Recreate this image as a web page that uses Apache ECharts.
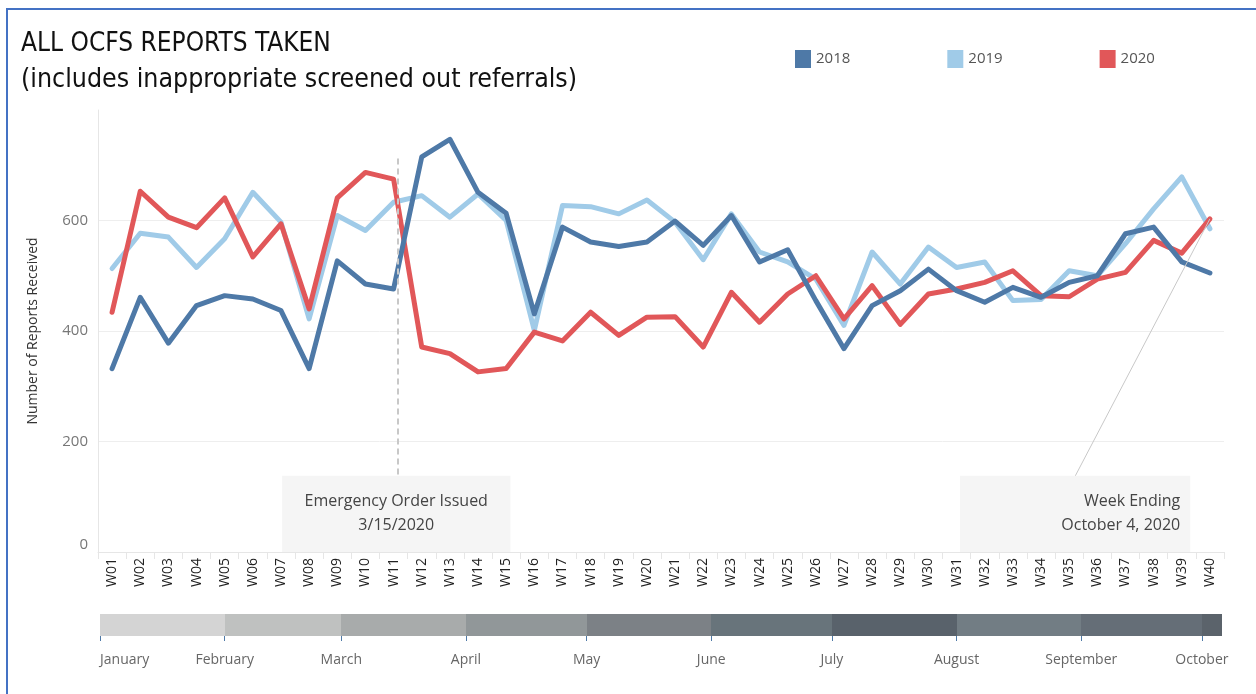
<!DOCTYPE html>
<html>
<head>
<meta charset="utf-8">
<script src="https://cdn.jsdelivr.net/npm/echarts@6/dist/echarts.min.js"></script>
<style>
    html,body{margin:0;padding:0;background:#fff;}
    #frame{position:absolute;left:6px;top:8px;width:1250px;height:686px;border-top:2px solid #4472c4;border-left:2px solid #4472c4;}
    #chart{position:absolute;left:0;top:0;width:1256px;height:694px;}
</style>
</head>
<body>
<div id="frame"></div>
<div id="chart"></div>
<script>
// weekly report counts
var weeks = ['W01','W02','W03','W04','W05','W06','W07','W08','W09','W10',
             'W11','W12','W13','W14','W15','W16','W17','W18','W19','W20',
             'W21','W22','W23','W24','W25','W26','W27','W28','W29','W30',
             'W31','W32','W33','W34','W35','W36','W37','W38','W39','W40'];
var y2018 = [332,461,378,446,464,458,437,332,527,485,476,715,747,651,613,431,588,561,553,561,
             599,555,609,525,547,455,368,446,473,512,473,452,479,461,488,500,576,588,525,505];
var y2019 = [513,577,570,515,567,651,597,422,609,582,633,645,606,648,600,401,627,625,612,637,
             597,529,612,543,525,494,410,543,485,552,515,525,455,457,509,500,558,621,679,585];
var y2020 = [434,653,606,587,641,534,594,440,641,687,675,371,359,326,332,398,382,434,392,425,
             426,371,470,416,467,500,422,482,412,467,476,488,509,464,462,494,506,564,541,603];
var yTicks = [0,200,400,600];

var monthNames = ['January','February','March','April','May','June','July','August','September','October'];
var monthStarts = ['2020-01-01','2020-02-01','2020-03-01','2020-04-01','2020-05-01',
                   '2020-06-01','2020-07-01','2020-08-01','2020-09-01','2020-10-01'];
var bandEnd = '2020-10-06';
var monthColors = ['#d4d4d4','#bfc1c0','#a8abab','#919799','#7c8186','#68747b','#59626b','#727d84','#656e77','#5b636b'];

var orderDate = '2020-03-15';
var orderLabel = 'Emergency Order Issued\n3/15/2020';
var endLabel = 'Week Ending\nOctober 4, 2020';

(function(window){
    var C2018 = '#4e79a7', C2019 = '#a0cbe8', C2020 = '#e15759';
    var FONT = "'Open Sans', 'Noto Sans', sans-serif";
    var TFONT = "'Liberation Sans Narrow','DejaVu Sans Condensed',sans-serif";

    // date -> week position (W01 = 1, centred on Jan 4)
    function weekPos(s){
        var d = new Date(s + 'T00:00:00Z');
        var doy = (d - Date.UTC(2020,0,1)) / 86400000 + 1;
        return 1 + (doy - 4) / 7;
    }

    var bands = [];
    monthStarts.forEach(function(s,i){
        var end = i < monthStarts.length - 1 ? monthStarts[i+1] : bandEnd;
        bands.push([weekPos(s), weekPos(end), i]);
    });
    var monthPos = monthStarts.map(weekPos);

    function monthName(v){
        for(var i=0;i<monthPos.length;i++){
            if(Math.abs(monthPos[i]-v) < 1e-6) return monthNames[i];
        }
        return '';
    }

    function lineSeries(name,data,color){
        return {
            name:name,
            type:'line',
            xAxisIndex:0,
            yAxisIndex:0,
            data:data,
            symbol:'none',
            lineStyle:{width:5,color:color,join:'round',cap:'round'},
            itemStyle:{color:color},
            emphasis:{disabled:true}
        };
    }

    var orderX = weekPos(orderDate);

    var option = {
        animation:false,
        textStyle:{fontFamily:FONT},
        title:[
            {text:'ALL OCFS REPORTS TAKEN', left:16, top:26,
             textStyle:{fontFamily:TFONT,fontSize:26,fontWeight:'normal',color:'#111'}},
            {text:'(includes inappropriate screened out referrals)', left:16, top:62,
             textStyle:{fontFamily:TFONT,fontSize:26.5,fontWeight:'normal',color:'#111'}}
        ],
        legend:{
            data:['2018','2019','2020'],
            left:790, top:45,
            icon:'rect',
            itemWidth:16, itemHeight:18,
            itemGap:97,
            selectedMode:false,
            textStyle:{fontSize:15,color:'#555',fontFamily:FONT}
        },
        grid:[
            {left:98, right:32, top:110, bottom:142},
            {left:98, right:32, top:614, height:22}
        ],
        xAxis:[
            {
                type:'category', gridIndex:0, data:weeks,
                axisLine:{lineStyle:{color:'#e6e6e6'}},
                axisTick:{show:true,length:7,lineStyle:{color:'#e6e6e6'}},
                axisLabel:{rotate:90,fontSize:14,color:'#222',margin:6}
            },
            {
                type:'value', gridIndex:0, min:0.5, max:40.5, show:false
            },
            {
                type:'value', gridIndex:1, min:0.5, max:40.5,
                offset:8,
                splitLine:{show:false},
                splitArea:{show:false},
                axisLine:{show:false},
                axisTick:{show:true,length:5,customValues:monthPos,lineStyle:{color:'#4e79a7',width:1}},
                axisLabel:{customValues:monthPos,fontSize:14,color:'#666',margin:9,
                           formatter:monthName, alignMinLabel:'left'}
            }
        ],
        yAxis:[
            {
                type:'value', gridIndex:0, min:0, max:800, interval:200,
                name:'Number of Reports Received',
                nameLocation:'middle', nameGap:58,
                nameTextStyle:{fontSize:14,color:'#333'},
                axisLine:{show:true,lineStyle:{color:'#e6e6e6'}},
                axisTick:{show:false},
                axisLabel:{fontSize:15,color:'#777',margin:10,showMaxLabel:false,
                           verticalAlignMinLabel:'bottom',
                           formatter:function(v){ return yTicks.indexOf(v) >= 0 ? String(v) : ''; }},
                splitLine:{lineStyle:{color:'#eeeeee'},showMaxLine:false}
            },
            {
                type:'value', gridIndex:1, min:0, max:1, show:false
            }
        ],
        series:[
            lineSeries('2019',y2019,C2019),
            lineSeries('2020',y2020,C2020),
            lineSeries('2018',y2018,C2018),
            {
                // annotations
                name:'notes', type:'line', xAxisIndex:1, yAxisIndex:0, data:[], silent:true,
                markArea:{
                    silent:true,
                    itemStyle:{color:'#f5f5f5'},
                    data:[
                        [{coord:[7.04,138],label:{show:true,position:'inside',formatter:orderLabel,
                            fontSize:16,lineHeight:24,color:'#444',fontFamily:FONT}},
                         {coord:[15.15,0]}],
                        [{coord:[31.12,138],label:{show:true,position:'insideRight',distance:10,align:'right',
                            formatter:endLabel,fontSize:16,lineHeight:24,color:'#444',fontFamily:FONT}},
                         {coord:[39.3,0]}]
                    ]
                },
                markLine:{
                    silent:true,
                    symbol:['none','none'],
                    label:{show:false},
                    data:[
                        [{coord:[orderX,712],lineStyle:{color:'#c8c8c8',width:2,type:[6,4]}},
                         {coord:[orderX,138]}],
                        [{coord:[40,y2020[39]],lineStyle:{color:'#c8c8c8',width:1,type:'solid'}},
                         {coord:[35.22,138]}]
                    ]
                }
            },
            {
                name:'months', type:'custom', xAxisIndex:2, yAxisIndex:1,
                data:bands, silent:true, z:10,
                renderItem:function(params,api){
                    var x0 = Math.round(api.coord([api.value(0),0])[0]);
                    var x1 = Math.round(api.coord([api.value(1),0])[0]);
                    var last = api.value(2) === monthColors.length - 1;
                    var cs = params.coordSys;
                    return {
                        type:'rect',
                        shape:{x:x0,y:cs.y,width:x1-x0+(last?0:1),height:cs.height},
                        style:{fill:monthColors[api.value(2)]}
                    };
                }
            }
        ]
    };

    var chart = echarts.init(document.getElementById('chart'));
    chart.setOption(option);
})(window);
</script>
</body>
</html>
